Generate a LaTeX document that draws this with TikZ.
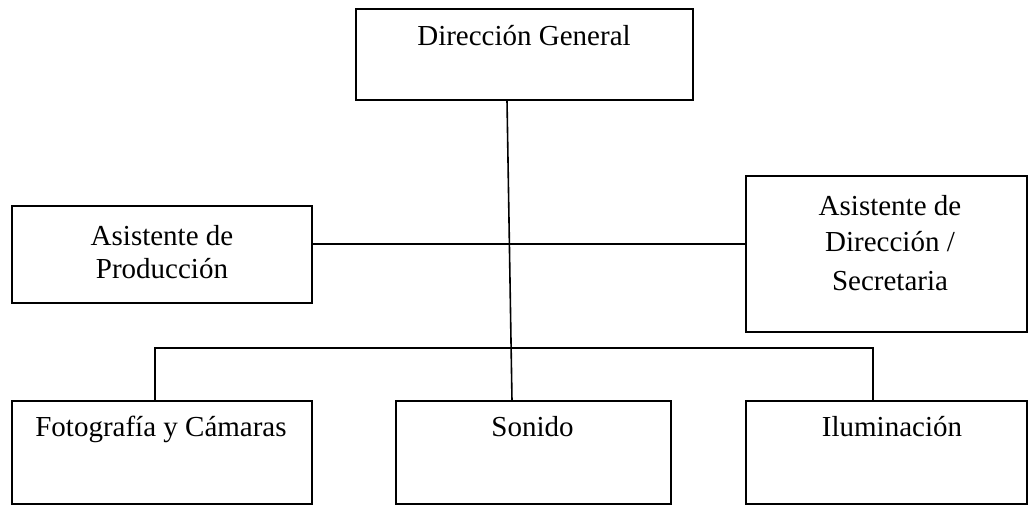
\documentclass[tikz,border=0pt]{standalone}
\usepackage{fontspec}
\setmainfont{Liberation Serif}
\begin{document}
\begin{tikzpicture}[x=1pt,y=-1pt,
  box/.style={draw=black,line width=1.6pt,rectangle,anchor=north west,inner sep=0pt,outer sep=0pt},
  txt/.style={anchor=base,inner sep=0pt,font=\fontsize{29}{33}\selectfont},
  conn/.style={draw=black,line width=1.6pt}]
\useasboundingbox (0,0) rectangle (1029,506);
% boxes
\node[box,minimum width=337pt,minimum height=91pt] (dg) at (356,9) {};
\node[box,minimum width=300pt,minimum height=97pt] (ap) at (12,206) {};
\node[box,minimum width=281pt,minimum height=156pt] (ad) at (746,176) {};
\node[box,minimum width=300pt,minimum height=103pt] (fc) at (12,401) {};
\node[box,minimum width=275pt,minimum height=103pt] (so) at (396,401) {};
\node[box,minimum width=281pt,minimum height=103pt] (il) at (746,401) {};
% texts
\node[txt] (tdg) at (524,45.7) {Dirección General};
\node[txt] (tap1) at (162,245) {Asistente de};
\node[txt] (tap2) at (162,278) {Producción};
\node[txt] (tad1) at (890,215) {Asistente de};
\node[txt] (tad2) at (890,251.7) {Dirección /};
\node[txt] (tad3) at (890,290) {Secretaria};
\node[txt] (tfc) at (161,436) {Fotografía y Cámaras};
\node[txt] (tso) at (532.5,436) {Sonido};
\node[txt] (til) at (892,436) {Iluminación};
% connectors
\draw[conn] ([xshift=-17.5pt]dg.south) -- ([xshift=-21.5pt]so.north);
\draw[conn] ([yshift=10.5pt]ap.east) -- ([yshift=10pt]ad.west);
\draw[conn] ([xshift=-7pt]fc.north) -- ++(0,-53) -| ([xshift=-13.5pt]il.north);
\end{tikzpicture}
\end{document}
